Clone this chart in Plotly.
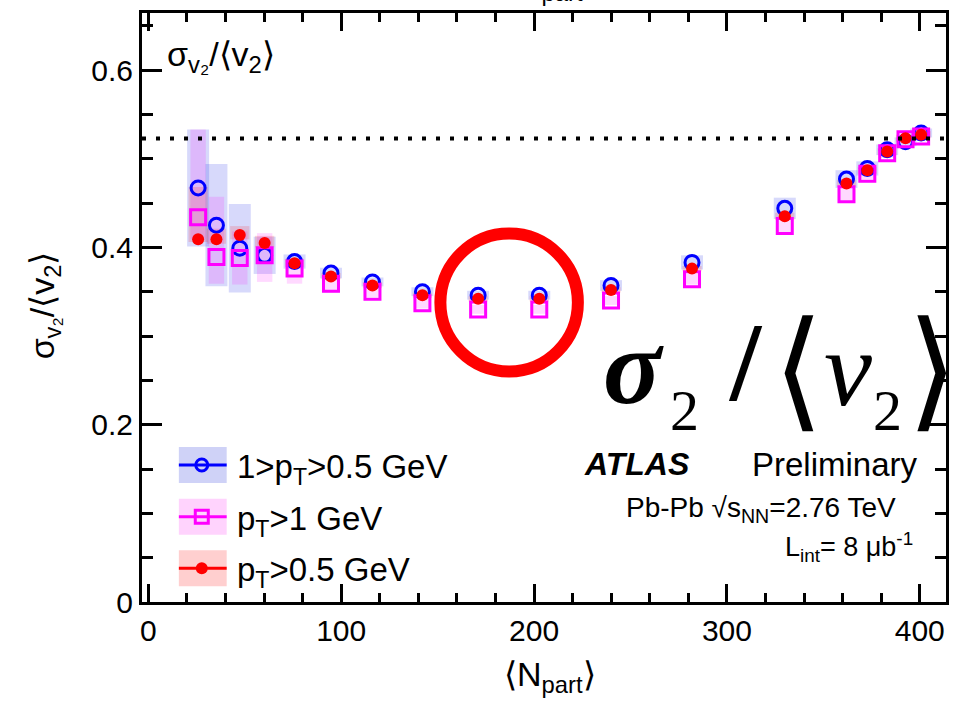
import math
import plotly.graph_objects as go

# Centrality bins: mean number of participants
n_part = [25.8, 35.3, 47.4, 60.3, 75.8, 94.7, 116.2, 142.1, 171.0, 202.7,
          239.9, 281.9, 330.0, 362.0, 372.8, 383.1, 392.6, 400.7]

# sigma_v2 / <v2> for the three pT selections
ratio_mid_pt = [0.467, 0.425, 0.399, 0.391, 0.384, 0.371, 0.361, 0.350, 0.346, 0.346,
                0.357, 0.383, 0.444, 0.477, 0.489, 0.510, 0.519, 0.529]
ratio_high_pt = [0.434, 0.389, 0.388, 0.391, 0.376, 0.359, 0.350, 0.337, 0.330, 0.330,
                 0.340, 0.364, 0.424, 0.460, 0.483, 0.506, 0.522, 0.525]
ratio_all_pt = [0.409, 0.409, 0.414, 0.405, 0.382, 0.367, 0.357, 0.346, 0.342, 0.342,
                0.352, 0.376, 0.435, 0.472, 0.487, 0.508, 0.523, 0.527]

# systematic uncertainties (down, up)
sys_mid_dn = [0.066, 0.069, 0.050, 0.021, 0.008, 0.006, 0.005, 0.005, 0.005, 0.005,
              0.006, 0.008, 0.012, 0.010, 0.008, 0.006, 0.005, 0.005]
sys_mid_up = sys_mid_dn
sys_high_dn = [0.025, 0.030, 0.030, 0.030, 0.017, 0.010, 0.006, 0.006, 0.005, 0.005,
               0.005, 0.006, 0.008, 0.008, 0.006, 0.005, 0.005, 0.005]
sys_high_up = [0.099, 0.068, 0.030, 0.025, 0.012, 0.008, 0.006, 0.006, 0.005, 0.005,
               0.005, 0.006, 0.008, 0.008, 0.006, 0.005, 0.005, 0.005]
sys_all_dn = [0.003, 0.005, 0.005, 0.005, 0.004, 0.003, 0.003, 0.003, 0.003, 0.003,
              0.003, 0.003, 0.004, 0.004, 0.004, 0.004, 0.004, 0.004]
sys_all_up = [0.059, 0.012, 0.010, 0.008, 0.005, 0.004, 0.004, 0.003, 0.003, 0.003,
              0.003, 0.003, 0.004, 0.004, 0.004, 0.004, 0.004, 0.004]

# Bessel-Gaussian expectation sqrt(4/pi - 1)
bg_limit = math.sqrt(4 / math.pi - 1)

series_labels = ["1>p<sub>T</sub>>0.5 GeV", "p<sub>T</sub>>1 GeV", "p<sub>T</sub>>0.5 GeV"]
x_tick_vals = [0, 100, 200, 300, 400]
y_tick_vals = [0, 0.2, 0.4, 0.6]
y_tick_text = ["0", "0.2", "0.4", "0.6"]

# ---- layout geometry ----
W, H = 955, 701
ML, MR, MT, MB = 142, 6, 13, 99
PW, PH = W - ML - MR, H - MT - MB
XR = [-3.3, 413.6]
YR = [0.0, 0.6643]

def px_to_paper_x(px):
    return (px - ML) / PW

def px_to_paper_y(py):
    return (H - MB - py) / PH

def px_to_data_x(px):
    return XR[0] + (px - ML) / PW * (XR[1] - XR[0])

def px_to_data_y(py):
    return YR[0] + (H - MB - py) / PH * (YR[1] - YR[0])

FONT = "Liberation Sans, Arial, Helvetica, sans-serif"
SERIF = "Liberation Serif, Times New Roman, serif"

series = [
    dict(y=ratio_mid_pt, dn=sys_mid_dn, up=sys_mid_up, half=5.7,
         box="rgba(20,30,230,0.17)", color="#0000ff", symbol="circle-open",
         size=14, leg_size=12),
    dict(y=ratio_high_pt, dn=sys_high_dn, up=sys_high_up, half=4.0,
         box="rgba(255,0,255,0.15)", color="#ff00ff", symbol="square-open",
         size=15, leg_size=13),
    dict(y=ratio_all_pt, dn=sys_all_dn, up=sys_all_up, half=5.0,
         box="rgba(255,0,0,0.15)", color="#ff0000", symbol="circle",
         size=12, leg_size=12),
]

fig = go.Figure()
shapes = []

# systematic boxes
for s in series:
    for xv, yv, d, u in zip(n_part, s["y"], s["dn"], s["up"]):
        shapes.append(dict(type="rect", xref="x", yref="y",
                           x0=xv - s["half"], x1=xv + s["half"],
                           y0=yv - d, y1=yv + u,
                           fillcolor=s["box"], line=dict(width=0), layer="below"))

# data markers
for s in series:
    filled = not s["symbol"].endswith("open")
    fig.add_trace(go.Scatter(
        x=n_part, y=s["y"], mode="markers", showlegend=False,
        marker=dict(symbol=s["symbol"], size=s["size"], color=s["color"],
                    line=dict(color=s["color"], width=0 if filled else 3)),
    ))

# reference line
shapes.append(dict(type="line", xref="x", yref="y", x0=XR[0], x1=XR[1],
                   y0=bg_limit, y1=bg_limit,
                   line=dict(color="black", width=4, dash="4px,10px")))

# highlight ring
cx, cy, r = 510.5, 302.5, 69
shapes.append(dict(type="circle", xref="paper", yref="paper",
                   x0=px_to_paper_x(cx - r), x1=px_to_paper_x(cx + r),
                   y0=px_to_paper_y(cy + r), y1=px_to_paper_y(cy - r),
                   line=dict(color="#ff0000", width=12)))

# legend (drawn beneath its marker traces)
legend_rows = [465, 516.7, 568.3]
legend_box = ["#cfd2f7", "#ffd3fd", "#ffcfcf"]
for row, s, bc in zip(legend_rows, series, legend_box):
    shapes.append(dict(type="rect", xref="paper", yref="paper", layer="below",
                       x0=px_to_paper_x(179), x1=px_to_paper_x(227),
                       y0=px_to_paper_y(row + 18), y1=px_to_paper_y(row - 18),
                       fillcolor=bc, line=dict(width=0)))
    shapes.append(dict(type="line", xref="paper", yref="paper", layer="below",
                       x0=px_to_paper_x(179), x1=px_to_paper_x(227),
                       y0=px_to_paper_y(row), y1=px_to_paper_y(row),
                       line=dict(color=s["color"], width=3)))
    filled = not s["symbol"].endswith("open")
    fig.add_trace(go.Scatter(
        x=[px_to_data_x(202)], y=[px_to_data_y(row)], mode="markers",
        showlegend=False, cliponaxis=False,
        marker=dict(symbol=s["symbol"], size=s["leg_size"], color=s["color"],
                    line=dict(color=s["color"], width=0 if filled else 3)),
    ))

annotations = []

def add_text(text, px, py, size, xanchor="left", yanchor="middle", family=FONT,
             angle=0, color="black"):
    annotations.append(dict(text=text, x=px_to_paper_x(px), y=px_to_paper_y(py),
                            xref="paper", yref="paper", xanchor=xanchor,
                            yanchor=yanchor, showarrow=False, textangle=angle,
                            font=dict(family=family, size=size, color=color)))

for row, lab in zip(legend_rows, series_labels):
    add_text(lab, 235, row + 4, 33)

ratio_label = "σ<sub>v₂</sub>/⟨v<sub>2</sub>⟩"
add_text(ratio_label, 165, 56, 34)
add_text(ratio_label, 44, 305, 34, xanchor="center", angle=-90)
add_text("⟨N<sub>part</sub>⟩", 552, 676, 34, xanchor="center")
add_text("⟨N<sub>part</sub>⟩", 552, 8, 34, xanchor="center", yanchor="bottom")

add_text("<b><i>ATLAS</i></b>", 584, 464, 32)
add_text("Preliminary", 923, 464, 33, xanchor="right")
add_text("Pb-Pb √s<sub>NN</sub>=2.76 TeV", 901, 509, 28, xanchor="right")
add_text("L<sub>int</sub>= 8 μb<sup>-1</sup>", 918, 547, 27, xanchor="right")

# large formula overlay
add_text("<b><i>σ</i></b>", 635, 366, 108, xanchor="center", family=SERIF)
add_text("2", 687, 411, 58, xanchor="center", family=SERIF)
add_text("<b>/</b>", 748, 362, 112, xanchor="center", family=SERIF)
add_text("⟨", 801, 370, 130, xanchor="center", family=SERIF)
add_text("<i>v</i>", 851, 368, 108, xanchor="center", family=SERIF)
add_text("2", 890, 411, 58, xanchor="center", family=SERIF)
add_text("⟩", 935, 370, 130, xanchor="center", family=SERIF)

axis_common = dict(showline=True, linecolor="black", linewidth=3, mirror="ticks",
                   ticks="inside", tickcolor="black", tickwidth=3,
                   showgrid=False, zeroline=False,
                   tickfont=dict(family=FONT, size=30, color="black"))

fig.update_xaxes(range=XR, tickvals=x_tick_vals, ticklen=18,
                 minor=dict(dtick=20, tick0=0, ticklen=9, tickwidth=3,
                            ticks="inside", tickcolor="black"),
                 **axis_common)
fig.update_yaxes(range=YR, tickvals=y_tick_vals, ticktext=y_tick_text, ticklen=20,
                 minor=dict(dtick=0.05, tick0=0, ticklen=11, tickwidth=3,
                            ticks="inside", tickcolor="black"),
                 **axis_common)

fig.update_layout(width=W, height=H, margin=dict(l=ML, r=MR, t=MT, b=MB),
                  paper_bgcolor="white", plot_bgcolor="rgba(0,0,0,0)",
                  shapes=shapes, annotations=annotations, showlegend=False)

fig.write_html("out.html")
